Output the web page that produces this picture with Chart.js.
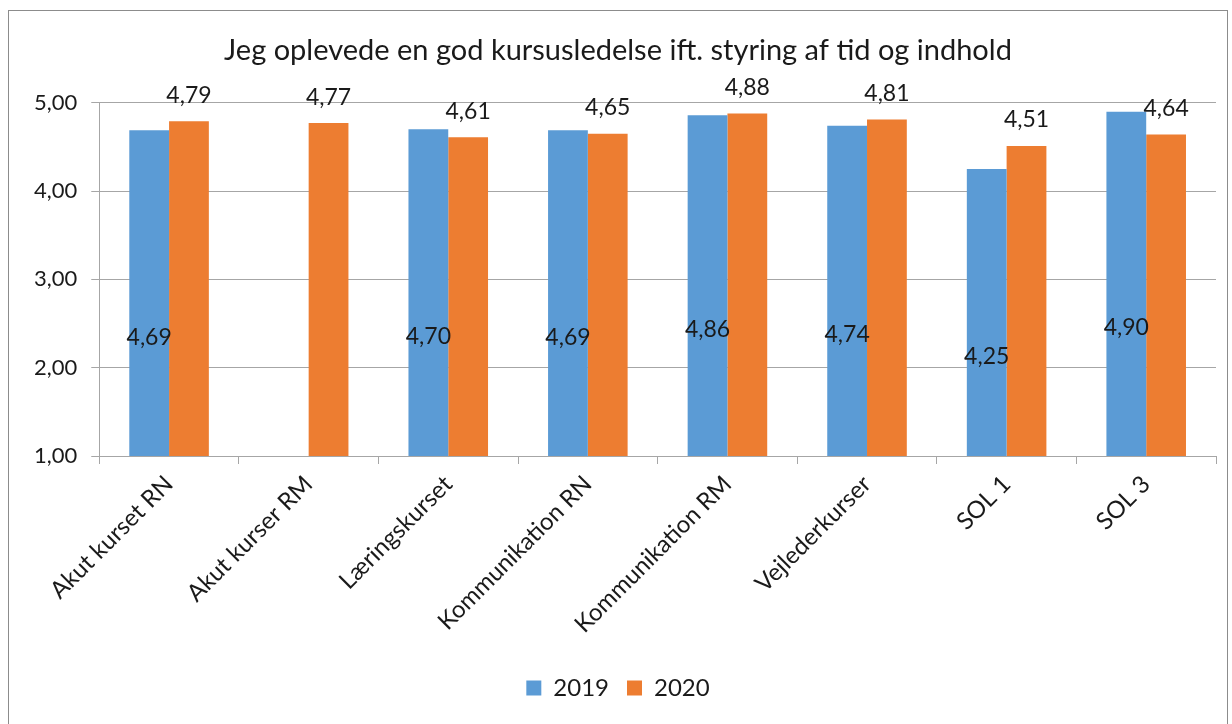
<!DOCTYPE html>
<html lang="da">
<head>
    <meta charset="UTF-8">
    <title>Kursusledelse</title>
    <script src="https://cdn.jsdelivr.net/npm/chart.js"></script>
    <style>
        body { margin: 0; background: #fff; }
        .frame {
            position: absolute; left: 8px; top: 10px; width: 1220px; height: 720px;
            border: 1px solid #8c8c8c; box-sizing: border-box;
        }
        .chart-box { position: absolute; left: 0; top: 0; width: 1232px; height: 724px; }
    </style>
</head>
<body>
    <div class="frame"></div>
    <div class="chart-box">
        <canvas id="kursusChart"></canvas>
    </div>

    <script>
        // data
        const categories = ['Akut kurset RN', 'Akut kurser RM', 'Læringskurset', 'Kommunikation RN',
            'Kommunikation RM', 'Vejlederkurser', 'SOL 1', 'SOL 3'];
        const values2019 = [4.69, null, 4.70, 4.69, 4.86, 4.74, 4.25, 4.90];
        const values2020 = [4.79, 4.77, 4.61, 4.65, 4.88, 4.81, 4.51, 4.64];
        const yTicks = [1, 2, 3, 4, 5];

        const fontFamily = 'Lato, "Open Sans", sans-serif';
        const comma = v => v.toFixed(2).replace('.', ',');

        // value labels: 2019 in the middle of the bar, 2020 above it
        const barLabels = {
            id: 'barLabels',
            afterDatasetsDraw(chart) {
                const ctx = chart.ctx;
                ctx.save();
                ctx.font = '23px ' + fontFamily;
                ctx.fillStyle = '#1a1a1a';
                ctx.textAlign = 'center';
                ctx.textBaseline = 'middle';
                chart.data.datasets.forEach((ds, i) => {
                    chart.getDatasetMeta(i).data.forEach((bar, j) => {
                        const v = ds.data[j];
                        if (v == null) return;
                        const y = i === 0 ? (bar.y + bar.base) / 2 : bar.y - 26;
                        ctx.fillText(comma(v), bar.x, y);
                    });
                });
                ctx.restore();
            }
        };

        const ctx = document.getElementById('kursusChart').getContext('2d');
        const kursusChart = new Chart(ctx, {
            type: 'bar',
            data: {
                labels: categories,
                datasets: [
                    { label: '2019', data: values2019, backgroundColor: '#5b9bd5' },
                    { label: '2020', data: values2020, backgroundColor: '#ed7d31' }
                ]
            },
            options: {
                responsive: true,
                maintainAspectRatio: false,
                animation: false,
                layout: { padding: { left: 20, right: 16, top: 25, bottom: 14 } },
                datasets: { bar: { categoryPercentage: 0.57, barPercentage: 1.0 } },
                plugins: {
                    title: {
                        display: true,
                        text: 'Jeg oplevede en god kursusledelse ift. styring af tid og indhold',
                        color: '#1a1a1a',
                        font: { family: fontFamily, size: 29, weight: 'normal' },
                        padding: { top: 8, bottom: 35 }
                    },
                    legend: {
                        position: 'bottom',
                        labels: {
                            color: '#1a1a1a',
                            boxWidth: 15, boxHeight: 15,
                            font: { family: fontFamily, size: 24 },
                            padding: 18
                        }
                    },
                    tooltip: { enabled: false }
                },
                scales: {
                    x: {
                        grid: { drawOnChartArea: false, drawTicks: true, tickLength: 8, color: '#a6a6a6', offset: true },
                        border: { color: '#a6a6a6' },
                        ticks: {
                            color: '#1a1a1a', maxRotation: 45, minRotation: 45, padding: 6,
                            font: { family: fontFamily, size: 24 }
                        },
                        afterFit: scale => { scale.height = 202; }
                    },
                    y: {
                        min: 1, max: 5,
                        afterBuildTicks: axis => { axis.ticks = yTicks.map(v => ({ value: v })); },
                        grid: { color: '#a6a6a6', tickLength: 8 },
                        border: { color: '#a6a6a6' },
                        ticks: {
                            color: '#1a1a1a', padding: 14,
                            font: { family: fontFamily, size: 22 },
                            callback: v => comma(v)
                        }
                    }
                }
            },
            plugins: [barLabels]
        });
    </script>
</body>
</html>
